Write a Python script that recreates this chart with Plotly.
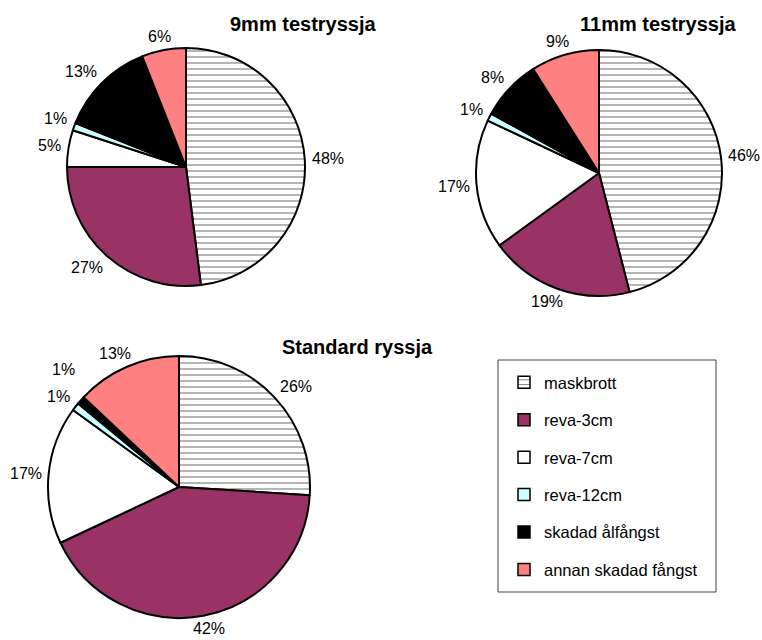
import math
import plotly.graph_objects as go

# Damage categories and their share (%) for each fyke net type
categories = ["maskbrott", "reva-3cm", "reva-7cm", "reva-12cm",
              "skadad ålfångst", "annan skadad fångst"]
nets = ["9mm testryssja", "11mm testryssja", "Standard ryssja"]
share_9mm = [48, 27, 5, 1, 13, 6]
share_11mm = [46, 19, 17, 1, 8, 9]
share_standard = [26, 42, 17, 1, 1, 13]

colors = ["#FFFFFF", "#993366", "#FFFFFF", "#CCFFFF", "#000000", "#FF8080"]
patterns = ["-", "", "", "", "", ""]

W, H = 762, 640
FONT = "Liberation Sans, Arial, sans-serif"
LABEL_SIZE = 16

# Pie placement in pixels: (centre x, centre y, radius)
layouts = [(186, 167, 119), (599, 173, 123), (179, 487, 131)]
shares = [share_9mm, share_11mm, share_standard]


def px_domain(cx, cy, r):
    """Square pie domain (paper fractions) for a centre/radius given in pixels."""
    return dict(x=[(cx - r) / W, (cx + r) / W],
                y=[(H - cy - r) / H, (H - cy + r) / H])


def text_width(text, size):
    # approximate Arial advance widths for digits and the percent sign
    return sum(0.889 if ch == "%" else 0.556 for ch in text) * size


def percent_labels(values, cx, cy, r, gap=7, spacing=27):
    """Outside percentage labels, positioned beside each slice's mid-angle."""
    total = float(sum(values))
    h = LABEL_SIZE * 0.8
    placed, out = [], []
    cum = 0.0
    for v in values:
        ang = 2 * math.pi * (cum + v / 2.0) / total  # clockwise from 12 o'clock
        cum += v
        s, c = math.sin(ang), math.cos(ang)
        text = f"{v}%"
        w = text_width(text, LABEL_SIZE)
        x = cx + (r + gap) * s + w / 2 * max(-1, min(1, 1.5 * s))
        y = cy - (r + gap) * c - h / 2 * max(-1, min(1, 1.5 * c))
        # keep neighbouring labels apart, moving along the clockwise direction
        step = -1 if s < 0 else 1
        moved = True
        while moved:
            moved = False
            for px, py, pw in placed:
                if abs(px - x) < (pw + w) / 2 and abs(py - y) < spacing:
                    y = py + step * spacing
                    moved = True
        placed.append((x, y, w))
        out.append(dict(text=text, x=x / W, y=(H - y) / H, xref="paper", yref="paper",
                        xanchor="center", yanchor="middle", showarrow=False,
                        font=dict(family=FONT, size=LABEL_SIZE, color="#000000")))
    return out


fig = go.Figure()
annotations = []
for name, vals, (cx, cy, r) in zip(nets, shares, layouts):
    fig.add_trace(go.Pie(
        labels=categories, values=vals, name=name,
        domain=px_domain(cx, cy, r),
        sort=False, direction="clockwise", rotation=0,
        textinfo="none",
        marker=dict(colors=colors,
                    line=dict(color="#000000", width=2),
                    pattern=dict(shape=patterns, fgcolor="#6e6e6e",
                                 bgcolor="#FFFFFF", size=6, solidity=0.17)),
        showlegend=False,
        hoverinfo="label+percent",
    ))
    annotations += percent_labels(vals, cx, cy, r)

# Legend entries: one empty bar trace per category so each gets its own swatch
for i, cat in enumerate(categories):
    fig.add_trace(go.Bar(
        x=[None], y=[None], name=cat, legendgroup=cat,
        marker=dict(color=colors[i],
                    line=dict(color="#000000", width=1.5),
                    pattern=dict(shape=patterns[i], fgcolor="#000000",
                                 bgcolor="#FFFFFF", size=6, solidity=0.2)),
        hoverinfo="skip",
    ))

titles = [(nets[0], 303, 24), (nets[1], 658, 24), (nets[2], 357, 347)]
annotations += [
    dict(text=f"<b>{t}</b>", x=x / W, y=(H - y) / H, xref="paper", yref="paper",
         xanchor="center", yanchor="middle", showarrow=False,
         font=dict(family=FONT, size=20, color="#000000"))
    for t, x, y in titles
]

fig.update_layout(
    width=W, height=H,
    margin=dict(l=0, r=0, t=0, b=0),
    paper_bgcolor="#FFFFFF", plot_bgcolor="#FFFFFF",
    xaxis=dict(visible=False), yaxis=dict(visible=False),
    annotations=annotations,
    shapes=[dict(type="rect", xref="paper", yref="paper",
                 x0=498 / W, x1=716 / W, y0=(H - 592) / H, y1=(H - 360) / H,
                 line=dict(color="#404040", width=1), fillcolor="rgba(0,0,0,0)")],
    legend=dict(x=504 / W, y=(H - 365) / H, xanchor="left", yanchor="top",
                traceorder="grouped", tracegroupgap=13,
                bgcolor="rgba(0,0,0,0)", borderwidth=0,
                font=dict(family=FONT, size=16.5, color="#000000")),
)

fig.write_html("out.html")
